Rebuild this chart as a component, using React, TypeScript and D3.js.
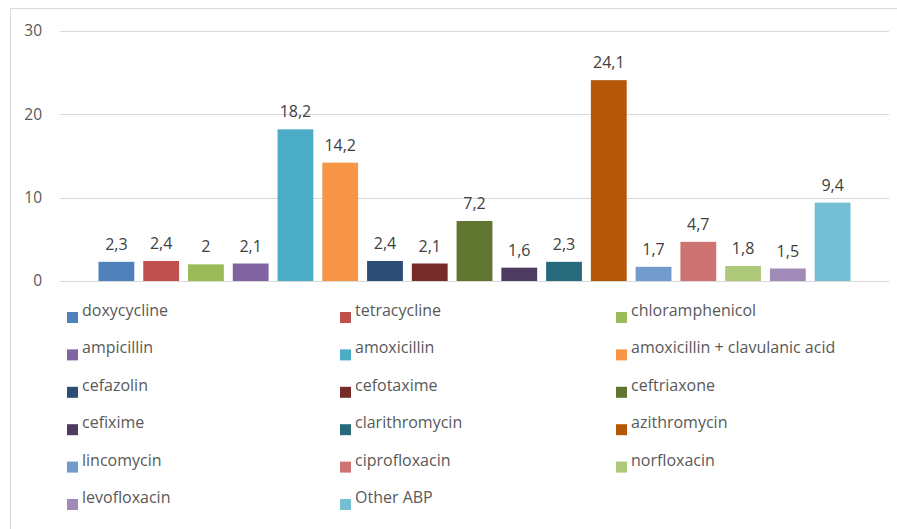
import * as d3 from 'd3';
import { useRef, useEffect } from 'react';

const drugs = [
  'doxycycline', 'tetracycline', 'chloramphenicol', 'ampicillin', 'amoxicillin',
  'amoxicillin + clavulanic acid', 'cefazolin', 'cefotaxime', 'ceftriaxone', 'cefixime',
  'clarithromycin', 'azithromycin', 'lincomycin', 'ciprofloxacin', 'norfloxacin',
  'levofloxacin', 'Other ABP',
];
const shares = [2.3, 2.4, 2, 2.1, 18.2, 14.2, 2.4, 2.1, 7.2, 1.6, 2.3, 24.1, 1.7, 4.7, 1.8, 1.5, 9.4];
const colors = [
  '#4f81bd', '#c0504d', '#9bbb59', '#8064a2', '#4bacc6', '#f79646', '#2c4d75', '#772c2a',
  '#5f7530', '#4d3b62', '#276a7c', '#b65708', '#729aca', '#cd7371', '#afc97a', '#a08ab8', '#74bfd3',
];
const yTicks = [0, 10, 20, 30];

const W = 897;
const H = 529;
const FONT = '"Open Sans", Lato, sans-serif';

const App = () => {
  const svgRef = useRef<SVGSVGElement>(null);

  useEffect(() => {
    const svg = d3.select(svgRef.current);
    svg.selectAll('*').remove();

    // outer chart frame
    svg.append('rect')
      .attr('x', 10.5).attr('y', 8.5)
      .attr('width', W).attr('height', H)
      .attr('fill', '#fff').attr('stroke', '#d9d9d9');

    const x = d3.scaleBand<string>()
      .domain(drugs)
      .range([60, 889])
      .paddingInner(0.2)
      .paddingOuter(0.86);

    const y = d3.scaleLinear().domain([0, 30]).range([281, 31]);

    // gridlines + y labels
    const grid = svg.append('g');
    grid.selectAll('line')
      .data(yTicks)
      .join('line')
      .attr('x1', 60).attr('x2', 889)
      .attr('y1', (d) => Math.round(y(d)) + 0.5)
      .attr('y2', (d) => Math.round(y(d)) + 0.5)
      .attr('stroke', '#d9d9d9');
    grid.selectAll('text')
      .data(yTicks)
      .join('text')
      .attr('x', 42)
      .attr('y', (d) => y(d))
      .attr('dy', '0.35em')
      .attr('text-anchor', 'end')
      .attr('font-family', FONT)
      .attr('font-size', 15.5)
      .attr('fill', '#595959')
      .text((d) => d);

    // bars
    const items = drugs.map((name, i) => ({ name, value: shares[i], color: colors[i] }));
    svg.append('g')
      .selectAll('rect')
      .data(items)
      .join('rect')
      .attr('x', (d) => x(d.name)!)
      .attr('y', (d) => y(d.value))
      .attr('width', x.bandwidth())
      .attr('height', (d) => y(0) - y(d.value))
      .attr('fill', (d) => d.color);

    // value labels
    svg.append('g')
      .selectAll('text')
      .data(items)
      .join('text')
      .attr('x', (d) => x(d.name)! + x.bandwidth() / 2)
      .attr('y', (d) => y(d.value) - 12)
      .attr('text-anchor', 'middle')
      .attr('font-family', FONT)
      .attr('font-size', 16)
      .attr('fill', '#404040')
      .text((d) => String(d.value).replace('.', ','));

    // legend, 3 columns
    const colX = [67, 340, 616];
    const rowY = d3.scaleLinear().domain([0, 1]).range([312, 349.4]);
    const leg = svg.append('g')
      .selectAll('g')
      .data(items)
      .join('g')
      .attr('transform', (d, i) => `translate(${colX[i % 3]},${rowY(Math.floor(i / 3))})`);
    leg.append('rect')
      .attr('x', 0).attr('y', 0)
      .attr('width', 11).attr('height', 11)
      .attr('fill', (d) => d.color);
    leg.append('text')
      .attr('x', 15)
      .attr('y', 4)
      .attr('font-family', FONT)
      .attr('font-size', 16)
      .attr('fill', '#595959')
      .text((d) => d.name);
  }, []);

  return (
    <svg
      ref={svgRef}
      width={W}
      height={H}
      style={{ position: 'absolute', left: 0, top: 0, background: '#fff' }}
    />
  );
};

export default App;
